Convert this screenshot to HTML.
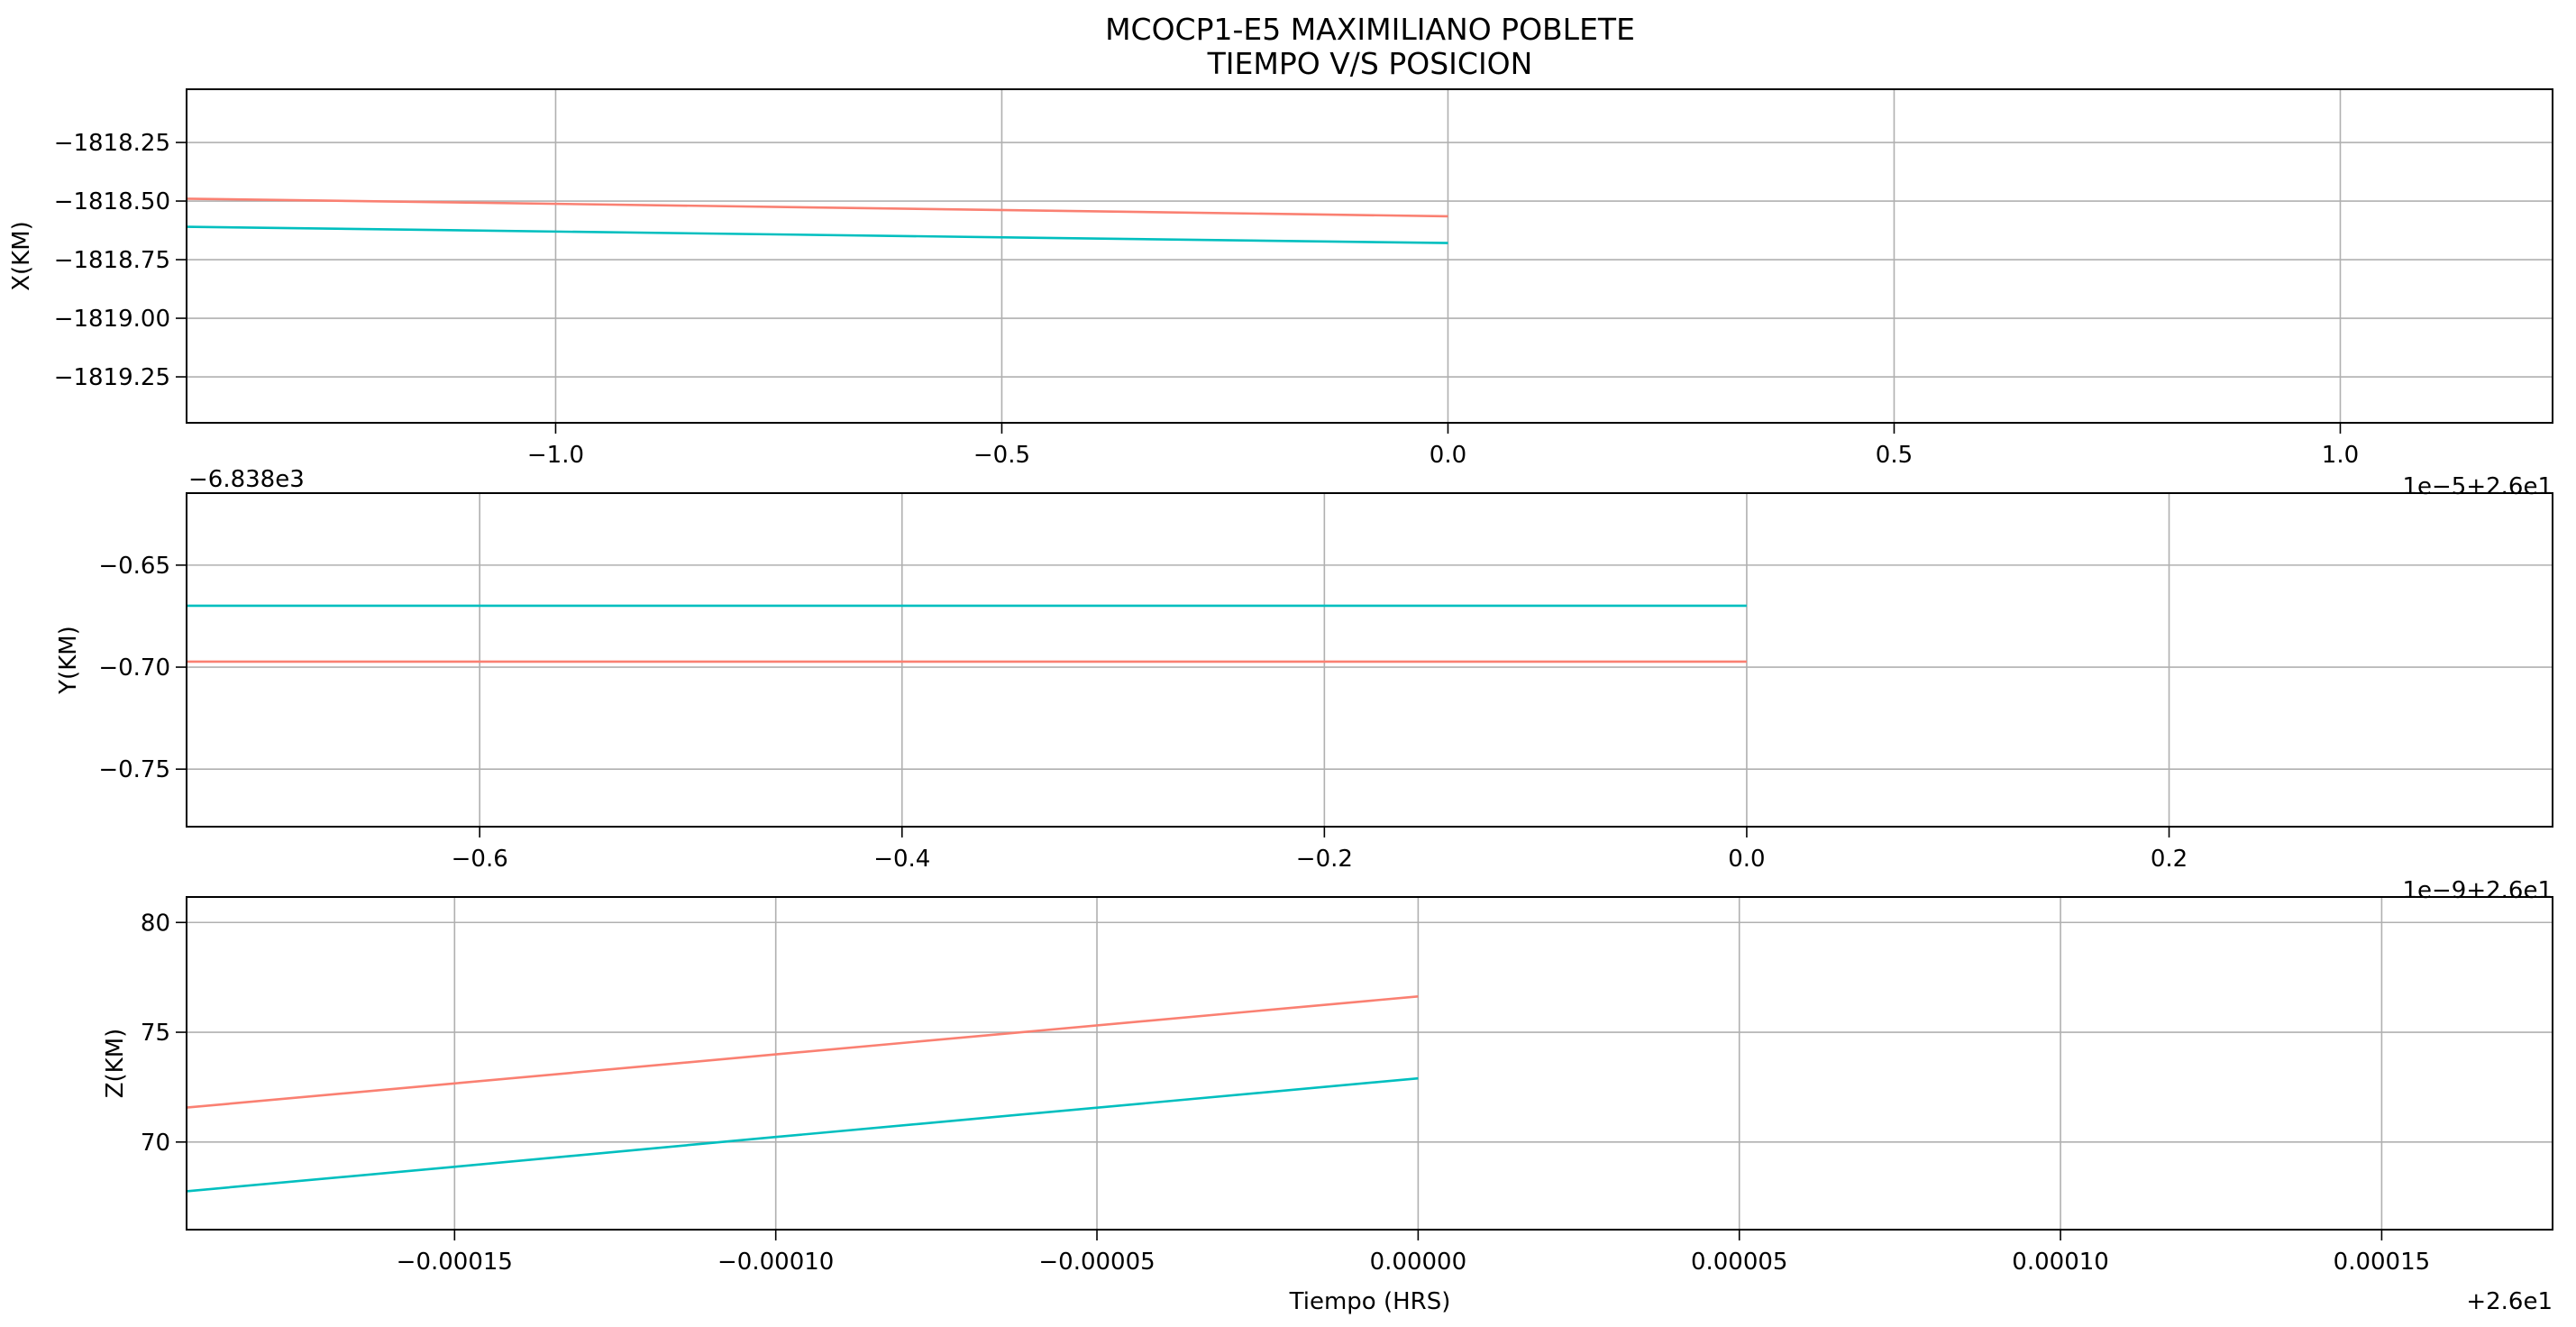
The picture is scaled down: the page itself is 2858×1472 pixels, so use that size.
<!DOCTYPE html>
<html><head><meta charset="utf-8"><style>
html,body{margin:0;padding:0;background:#fff;}
svg{display:block;font-family:"DejaVu Sans","Liberation Sans",sans-serif;}
</style></head><body>
<svg id="chart" width="2858" height="1472" viewBox="0 0 2858 1472" xmlns="http://www.w3.org/2000/svg">
<text x="1520" y="44" font-size="33" text-anchor="middle">MCOCP1-E5 MAXIMILIANO POBLETE</text>
<text x="1520" y="82" font-size="33" text-anchor="middle">TIEMPO V/S POSICION</text>
</svg>
<script>
// Panel X
const xTicks1 = [-1.0, -0.5, 0.0, 0.5, 1.0];
const xTickLabels1 = ["\u22121.0", "\u22120.5", "0.0", "0.5", "1.0"];
const yTicks1 = [-1818.25, -1818.5, -1818.75, -1819.0, -1819.25];
const yTickLabels1 = ["\u22121818.25", "\u22121818.50", "\u22121818.75", "\u22121819.00", "\u22121819.25"];
const t1 = [-1.4136, 0.0];
const xRed = [-1818.49, -1818.565];
const xCyan = [-1818.61, -1818.679];
// Panel Y
const xTicks2 = [-0.6, -0.4, -0.2, 0.0, 0.2];
const xTickLabels2 = ["\u22120.6", "\u22120.4", "\u22120.2", "0.0", "0.2"];
const yTicks2 = [-0.65, -0.70, -0.75];
const yTickLabels2 = ["\u22120.65", "\u22120.70", "\u22120.75"];
const t2 = [-0.7388, 0.0];
const yRed = [-0.6973, -0.6973];
const yCyan = [-0.6699, -0.6699];
// Panel Z
const xTicks3 = [-0.00015, -0.0001, -0.00005, 0, 0.00005, 0.0001, 0.00015];
const xTickLabels3 = ["\u22120.00015", "\u22120.00010", "\u22120.00005", "0.00000", "0.00005", "0.00010", "0.00015"];
const yTicks3 = [80, 75, 70];
const yTickLabels3 = ["80", "75", "70"];
const t3 = [-0.00019172, -0.00015, -0.0001, 0];
const zRed = [71.57, 72.67, 73.99, 76.63];
const zCyan = [67.76, 68.87, 70.23, 72.9];

const NS = "http://www.w3.org/2000/svg";
const svg = document.getElementById('chart');
function mk(tag, attrs, parent) {
  const e = document.createElementNS(NS, tag);
  for (const k in attrs) e.setAttribute(k, attrs[k]);
  (parent || svg).appendChild(e);
  return e;
}
const L = 207, R = 2832;
const panels = [
  {top: 99, bot: 469, xmin: -1.4136, xmax: 1.2379, ymin: -1819.446, ymax: -1818.023,
   xt: xTicks1, xl: xTickLabels1, yt: yTicks1, yl: yTickLabels1, t: t1, red: xRed, cyan: xCyan,
   ylab: "X(KM)", ylabX: 32, name: "x"},
  {top: 547, bot: 917, xmin: -0.7388, xmax: 0.3816, ymin: -0.7782, ymax: -0.6147,
   xt: xTicks2, xl: xTickLabels2, yt: yTicks2, yl: yTickLabels2, t: t2, red: yRed, cyan: yCyan,
   ylab: "Y(KM)", ylabX: 84, name: "y"},
  {top: 995, bot: 1364, xmin: -0.00019172, xmax: 0.0001766, ymin: 66.01, ymax: 81.16,
   xt: xTicks3, xl: xTickLabels3, yt: yTicks3, yl: yTickLabels3, t: t3, red: zRed, cyan: zCyan,
   ylab: "Z(KM)", ylabX: 136, name: "z"}
];
panels.forEach(p => {
  const sx = v => L + (v - p.xmin) / (p.xmax - p.xmin) * (R - L);
  const sy = v => p.bot - (v - p.ymin) / (p.ymax - p.ymin) * (p.bot - p.top);
  const g = mk('g', {});
  
  
  p.xt.forEach((v, i) => {
    const x = sx(v);
    const gl = mk('line', {x1: x, x2: x, y1: p.top, y2: p.bot, stroke: '#b0b0b0', 'stroke-width': 1.6}, g);
    
    
    mk('line', {x1: x, x2: x, y1: p.bot, y2: p.bot + 12, stroke: '#000', 'stroke-width': 1.6}, g);
    const tl = mk('text', {x: x, y: p.bot + 44, 'font-size': 26, 'text-anchor': 'middle'}, g);
    
    
    tl.textContent = p.xl[i];
  });
  p.yt.forEach((v, i) => {
    const y = sy(v);
    const gl = mk('line', {x1: L, x2: R, y1: y, y2: y, stroke: '#b0b0b0', 'stroke-width': 1.6}, g);
    
    
    mk('line', {x1: L - 12, x2: L, y1: y, y2: y, stroke: '#000', 'stroke-width': 1.6}, g);
    const tl = mk('text', {x: L - 18, y: y + 9, 'font-size': 26, 'text-anchor': 'end'}, g);
    
    
    tl.textContent = p.yl[i];
  });
  [['red', '#fa8072'], ['cyan', '#00bfbf']].forEach(([k, c]) => {
    const pts = p.t.map((tv, i) => sx(tv).toFixed(1) + ',' + sy(p[k][i]).toFixed(1)).join(' ');
    const pl = mk('polyline', {points: pts, fill: 'none', stroke: c, 'stroke-width': 2.6}, g);
    
    
  });
  const fr = mk('rect', {x: L, y: p.top, width: R - L, height: p.bot - p.top, fill: 'none', stroke: '#000', 'stroke-width': 2}, g);
  
  
  const yl = mk('text', {x: p.ylabX, y: (p.top + p.bot) / 2, 'font-size': 26, 'text-anchor': 'middle',
    transform: 'rotate(-90 ' + p.ylabX + ' ' + (p.top + p.bot) / 2 + ')'}, g);
  
  
  yl.textContent = p.ylab;
});
function txt(name, x, y, anchor, s) {
  const t = mk('text', {x: x, y: y, 'font-size': 26, 'text-anchor': anchor});
  
  
  t.textContent = s;
}
txt('y-offset-label', 209, 540, 'start', '\u22126.838e3');
txt('x-offset-label-top', 2832, 548, 'end', '1e\u22125+2.6e1');
txt('x-offset-label-middle', 2832, 996, 'end', '1e\u22129+2.6e1');
txt('x-offset-label-bottom', 2832, 1452, 'end', '+2.6e1');
txt('x-axis-title', 1520, 1452, 'middle', 'Tiempo (HRS)');
</script>
</body></html>
